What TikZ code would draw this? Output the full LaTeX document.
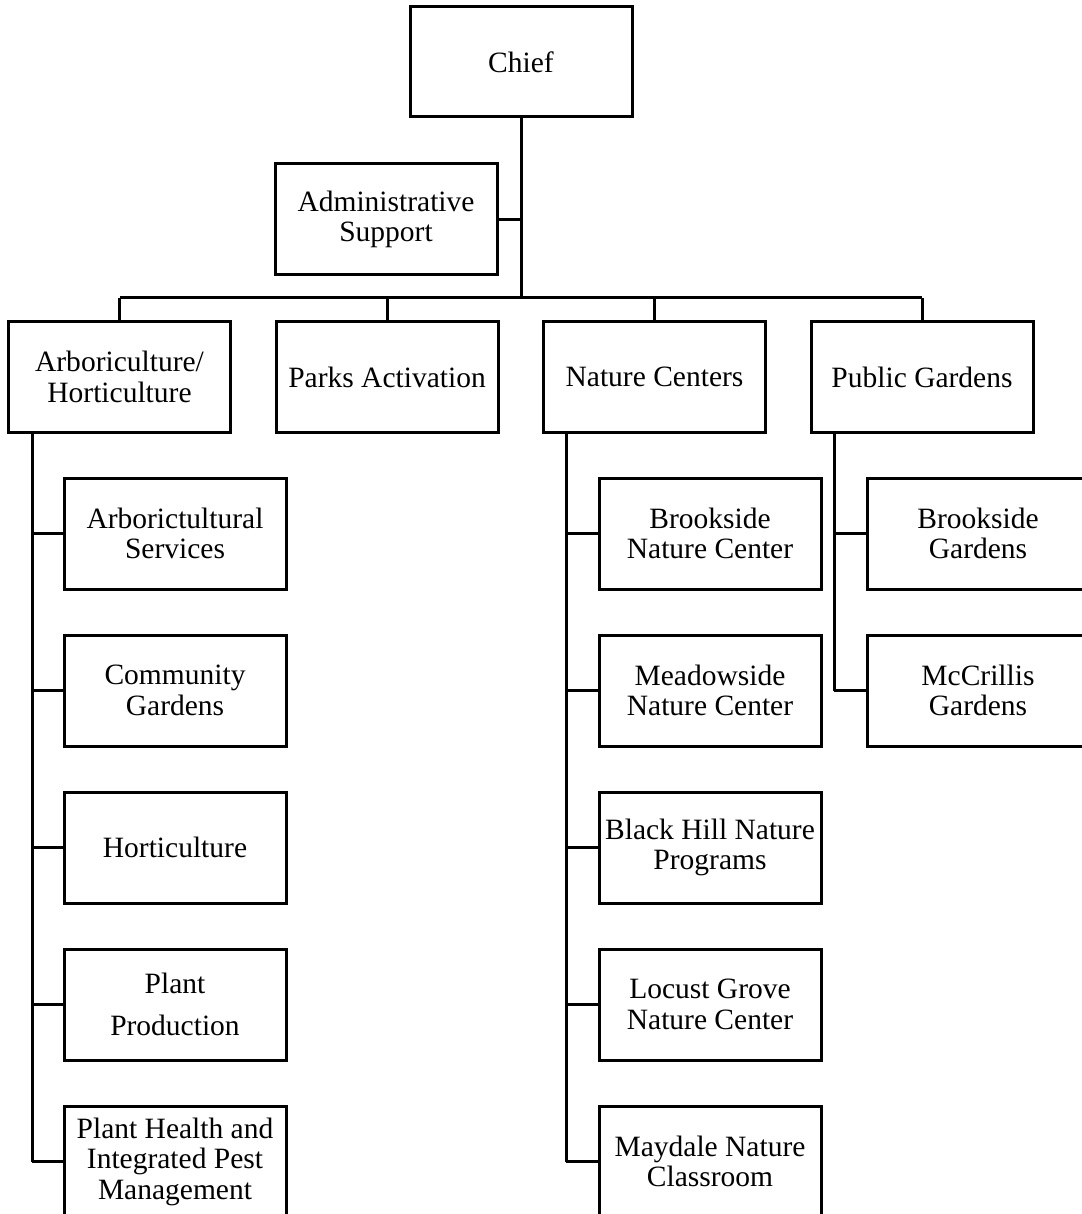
\documentclass[tikz,border=0pt]{standalone}
\usepackage{fontspec}
\setmainfont{Liberation Serif}
\begin{document}
\begin{tikzpicture}[x=1pt,y=-1pt,
  unit/.style={draw, line width=3pt, minimum width=222pt, minimum height=111pt,
    inner sep=0pt, align=center, font=\fontsize{29.5}{30.5}\selectfont},
  link/.style={line width=3pt}]
\useasboundingbox (0,0) rectangle (1081,1214);

% top of the chart
\node[unit, minimum height=110pt] (chief) at (521,62) {Chief};
\node[unit] (admin) at (386,219.5) {Administrative\\Support};

% divisions
\node[unit] (arb)    at (119.5,377) {Arboriculture/\\Horticulture};
\node[unit] (parks)  at (387,377)   {Parks Activation};
\node[unit] (nature) at (654.5,377) {Nature Centers};
\node[unit] (public) at (922,377)   {Public Gardens};

% arboriculture / horticulture sections
\node[unit] (a1) at (175,533.5)  {Arborictultural\\Services};
\node[unit] (a2) at (175,690.5)  {Community\\Gardens};
\node[unit] (a3) at (175,847.5)  {Horticulture};
\node[unit] (a4) at (175,1004.5) {Plant\\[11pt]Production};
\node[unit] (a5) at (175,1161.5) {Plant Health and\\Integrated Pest\\Management};

% nature centers
\node[unit] (n1) at (710,533.5)  {Brookside\\Nature Center};
\node[unit] (n2) at (710,690.5)  {Meadowside\\Nature Center};
\node[unit] (n3) at (710,847.5)  {Black Hill Nature\\Programs};
\node[unit] (n4) at (710,1004.5) {Locust Grove\\Nature Center};
\node[unit] (n5) at (710,1161.5) {Maydale Nature\\Classroom};

% public gardens
\node[unit] (p1) at (978,533.5) {Brookside\\Gardens};
\node[unit] (p2) at (978,690.5) {McCrillis\\Gardens};

% junction points of the trunk lines
\coordinate (hub) at (521,298);
\coordinate (barL) at (119.5,298);
\coordinate (barR) at (922,298);

% chief to the divisions
\draw[link] (chief.south) -- (hub);
\draw[link] (admin.east) -- (admin.east -| hub);
\draw[link] (barL) -- (barR);
\foreach \d in {arb,parks,nature,public}
  \draw[link] (\d.north) -- (\d.north |- hub);

% section trunks
\coordinate (ta) at (32,432.5);
\coordinate (tn) at (566,432.5);
\coordinate (tp) at (834,432.5);
\draw[link] (ta) -- (ta |- a5.west);
\draw[link] (tn) -- (tn |- n5.west);
\draw[link] (tp) -- (tp |- p2.west);
\foreach \s in {a1,a2,a3,a4,a5}
  \draw[link] (\s.west -| ta) -- (\s.west);
\foreach \s in {n1,n2,n3,n4,n5}
  \draw[link] (\s.west -| tn) -- (\s.west);
\foreach \s in {p1,p2}
  \draw[link] (\s.west -| tp) -- (\s.west);
\end{tikzpicture}
\end{document}
